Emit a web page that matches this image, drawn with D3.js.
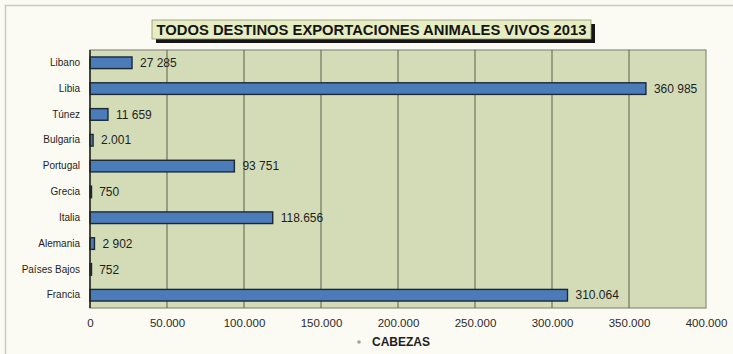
<!DOCTYPE html>
<html>
<head>
<meta charset="utf-8">
<script src="https://cdn.jsdelivr.net/npm/d3@7"></script>
<style>
  html, body { margin: 0; padding: 0; background: #fbfaf3; }
  svg { display: block; font-family: "Liberation Sans", Arial, sans-serif; }
</style>
</head>
<body>
<svg id="chart" width="733" height="354"></svg>
<script>
// Live-animal export destinations, 2013 (head of cattle)
const categories = ["Libano", "Libia", "Túnez", "Bulgaria", "Portugal", "Grecia", "Italia", "Alemania", "Países Bajos", "Francia"];
const values = [27285, 360985, 11659, 2001, 93751, 750, 118656, 2902, 752, 310064];
const valueLabels = ["27 285", "360 985", "11 659", "2.001", "93 751", "750", "118.656", "2 902", "752", "310.064"];
const tickValues = [0, 50000, 100000, 150000, 200000, 250000, 300000, 350000, 400000];
const tickLabels = ["0", "50.000", "100.000", "150.000", "200.000", "250.000", "300.000", "350.000", "400.000"];
const titleText = "TODOS DESTINOS EXPORTACIONES ANIMALES VIVOS 2013";
const seriesName = "CABEZAS";

const svg = d3.select("#chart");
const plot = { left: 90, right: 706, top: 50, bottom: 308 };

// outer frame
svg.append("path")
  .attr("d", "M5.5,354 V5.5 H733")
  .attr("fill", "none").attr("stroke", "#c9c9c4").attr("stroke-width", 1.5);

const x = d3.scaleLinear().domain([0, 400000]).range([plot.left, plot.right]);
const y = d3.scaleBand().domain(categories).range([plot.top, plot.bottom]).paddingInner(0.55).paddingOuter(0.27);

// plot background
svg.append("rect")
  .attr("x", plot.left).attr("y", plot.top)
  .attr("width", plot.right - plot.left).attr("height", plot.bottom - plot.top)
  .attr("fill", "#d3dcb6").attr("stroke", "#8a8d80").attr("stroke-width", 1.2);

// vertical gridlines
svg.append("g").selectAll("line")
  .data(tickValues.slice(1, -1))
  .join("line")
  .attr("x1", d => x(d)).attr("x2", d => x(d))
  .attr("y1", plot.top).attr("y2", plot.bottom)
  .attr("stroke", "#5a6048").attr("stroke-width", 1);

// x axis labels
const xAxis = d3.axisBottom(x)
  .tickValues(tickValues)
  .tickFormat((d, i) => tickLabels[i])
  .tickSize(0).tickPadding(11);
const gx = svg.append("g").attr("transform", `translate(0,${plot.bottom})`).call(xAxis);
gx.select(".domain").remove();
gx.selectAll("text").attr("font-size", 11.5).attr("fill", "#2a2a2a")
  .attr("font-family", "'Liberation Sans', Arial, sans-serif");

// y axis labels
const yAxis = d3.axisLeft(y).tickSize(0).tickPadding(10);
const gy = svg.append("g").attr("transform", `translate(${plot.left},0)`).call(yAxis);
gy.select(".domain").remove();
gy.selectAll("text").attr("font-size", 10).attr("fill", "#1e1e1e")
  .attr("font-family", "'Liberation Sans', Arial, sans-serif");

// bars
svg.append("g").selectAll("rect")
  .data(values)
  .join("rect")
  .attr("x", x(0))
  .attr("y", (d, i) => y(categories[i]))
  .attr("width", d => Math.max(x(d) - x(0), 1.5))
  .attr("height", y.bandwidth())
  .attr("fill", "#4c7bba")
  .attr("stroke", "#1c2836").attr("stroke-width", 1.4);

// value labels
svg.append("g").selectAll("text")
  .data(values)
  .join("text")
  .attr("x", d => x(d) + 8)
  .attr("y", (d, i) => y(categories[i]) + y.bandwidth() / 2)
  .attr("dy", "0.35em")
  .attr("font-size", 12)
  .attr("fill", "#1e1e1e")
  .text((d, i) => valueLabels[i]);

// left axis line
svg.append("line")
  .attr("x1", plot.left).attr("x2", plot.left)
  .attr("y1", plot.top).attr("y2", plot.bottom)
  .attr("stroke", "#1f2418").attr("stroke-width", 1.5);

// title box with drop shadow
const tb = { x: 152, y: 20, w: 439, h: 19 };
svg.append("rect")
  .attr("x", tb.x + 4).attr("y", tb.y + 4).attr("width", tb.w).attr("height", tb.h)
  .attr("fill", "#161616");
svg.append("rect")
  .attr("x", tb.x).attr("y", tb.y).attr("width", tb.w).attr("height", tb.h)
  .attr("fill", "#e6edc0").attr("stroke", "#8d9080").attr("stroke-width", 0.8);
svg.append("text")
  .attr("x", tb.x + tb.w / 2).attr("y", tb.y + tb.h / 2)
  .attr("dy", "0.36em")
  .attr("text-anchor", "middle")
  .attr("font-size", 14.5).attr("font-weight", "bold").attr("fill", "#151515")
  .attr("textLength", 430).attr("lengthAdjust", "spacingAndGlyphs")
  .text(titleText);

// legend
svg.append("circle").attr("cx", 359).attr("cy", 342).attr("r", 1.8).attr("fill", "#a0a0a0");
svg.append("text")
  .attr("x", 372).attr("y", 342).attr("dy", "0.35em")
  .attr("font-size", 12).attr("font-weight", "bold").attr("fill", "#1e1e1e")
  .text(seriesName);
</script>
</body>
</html>
